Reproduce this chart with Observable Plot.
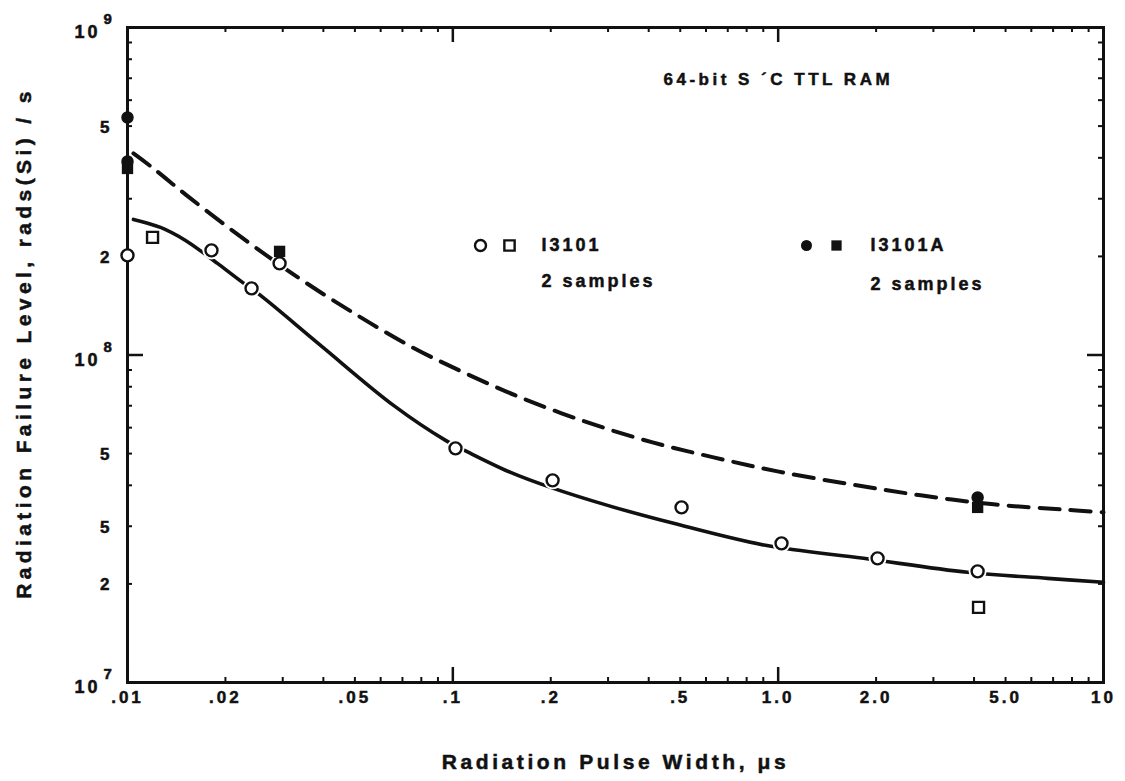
<!DOCTYPE html>
<html>
<head>
<meta charset="utf-8">
<script src="https://cdn.jsdelivr.net/npm/d3@7"></script>
<script src="https://cdn.jsdelivr.net/npm/@observablehq/plot@0.6"></script>
<style>
  html, body { margin: 0; padding: 0; background: #fff; }
  #chart svg { display: block; }
  #chart svg text { letter-spacing: 3px; stroke: #111; stroke-width: 0.5px; }
</style>
</head>
<body>
<div id="chart"></div>
<script>
// ---- Axis labels -------------------------------------------------------
const xTickValues = [0.01, 0.02, 0.05, 0.1, 0.2, 0.5, 1, 2, 5, 10];
const xTickLabels = [".01", ".02", ".05", ".1", ".2", ".5", "1.0", "2.0", "5.0", "10"];
const yDecadeValues = [1e7, 1e8, 1e9];
const yDecadeExponents = ["7", "8", "9"];
const yMinorLabelValues = [5e8, 2e8, 5e7, 3e7, 2e7];
const yMinorLabels = ["5", "2", "5", "5", "2"];
const xTitle = "Radiation Pulse Width, \u03bcs";
const yTitle = "Radiation Failure Level, rads(Si) / s";
const deviceCaption = "64-bit S \u00b4C TTL RAM";

// ---- Fitted curves: failure level (rads(Si)/s) vs pulse width (µs) ------
// I3101 (solid)
const fitI3101X = [0.01043, 0.01263, 0.01508, 0.01737, 0.01891, 0.02257, 0.02564, 0.03921, 0.06572,
                   0.0950, 0.1118, 0.1505, 0.1997, 0.2990, 0.4770, 0.9147, 1.830, 3.821, 6.733, 10];
const fitI3101Y = [2.594e8, 2.452e8, 2.238e8, 2.028e8, 1.904e8, 1.666e8, 1.520e8, 1.070e8, 7.018e7,
                   5.487e7, 5.043e7, 4.381e7, 3.943e7, 3.474e7, 3.062e7, 2.623e7, 2.394e7, 2.170e7, 2.080e7, 2.023e7];
// I3101A (dashed)
const fitI3101AX = [0.01043, 0.01202, 0.01562, 0.02355, 0.03450, 0.05093, 0.07516, 0.1079, 0.1638,
                    0.2595, 0.4111, 0.6331, 0.9958, 1.670, 2.741, 4.593, 7.384, 10];
const fitI3101AY = [4.124e8, 3.712e8, 3.007e8, 2.207e8, 1.689e8, 1.321e8, 1.055e8, 8.849e7, 7.375e7,
                    6.226e7, 5.410e7, 4.869e7, 4.412e7, 4.028e7, 3.728e7, 3.499e7, 3.378e7, 3.308e7];

// ---- Measured samples ---------------------------------------------------
// I3101, sample 1 (open circle) and sample 2 (open square)
const i3101CircleX = [0.01, 0.01812, 0.02406, 0.02934, 0.1019, 0.2026, 0.5047, 1.024, 2.021, 4.103];
const i3101CircleY = [2.014e8, 2.086e8, 1.597e8, 1.904e8, 5.187e7, 4.143e7, 3.425e7, 2.660e7, 2.394e7, 2.185e7];
const i3101SquareX = [0.01194, 4.130];
const i3101SquareY = [2.286e8, 1.696e7];
// I3101A, sample 1 (filled circle) and sample 2 (filled square)
const i3101aCircleX = [0.01, 0.01, 4.103];
const i3101aCircleY = [5.311e8, 3.899e8, 3.675e7];
const i3101aSquareX = [0.01, 0.02934, 4.103];
const i3101aSquareY = [3.712e8, 2.072e8, 3.425e7];

const rows = (xs, ys) => xs.map((x, i) => ({x, y: ys[i]}));
const labelRows = (vs, ls) => vs.map((v, i) => ({v, label: ls[i]}));

// frame geometry
const W = 1125, H = 781;
const mL = 127, mR = 22, mT = 27, mB = 99;
const innerW = W - mL - mR, innerH = H - mT - mB;

// minor and major ticks from the log scales
const isDecade = v => Math.abs(Math.log10(v) - Math.round(Math.log10(v))) < 1e-9;
const xAll = d3.scaleLog().domain([0.01, 10]).ticks();
const yAll = d3.scaleLog().domain([1e7, 1e9]).ticks();
const xMinor = xAll.filter(v => !isDecade(v)), xMajor = xAll.filter(isDecade);
const yMinor = yAll.filter(v => !isDecade(v)), yMajor = yAll.filter(isDecade);

const font = "'Liberation Sans', Arial, Helvetica, sans-serif";
const ink = "#111";
const one = [0];
const legendText = {frameAnchor: "top-left", fontSize: 18, fontWeight: 700, fill: ink, textAnchor: "start", lineAnchor: "middle"};

const chart = Plot.plot({
  width: W, height: H,
  marginLeft: mL, marginRight: mR, marginTop: mT, marginBottom: mB,
  x: {type: "log", domain: [0.01, 10], axis: null},
  y: {type: "log", domain: [1e7, 1e9], axis: null},
  style: {fontFamily: font, background: "#fff", color: ink, overflow: "visible"},
  marks: [
    // fitted curves
    Plot.line(rows(fitI3101X, fitI3101Y), {x: "x", y: "y", curve: "catmull-rom", stroke: ink, strokeWidth: 3.6}),
    Plot.line(rows(fitI3101AX, fitI3101AY), {x: "x", y: "y", curve: "catmull-rom", stroke: ink, strokeWidth: 4, strokeDasharray: "20,11"}),

    // white gaps where the open markers sit on the curves
    Plot.dot(rows(i3101CircleX, i3101CircleY), {x: "x", y: "y", r: 9, fill: "#fff"}),
    Plot.dot(rows(i3101SquareX, i3101SquareY), {x: "x", y: "y", r: 9, fill: "#fff", symbol: "square"}),

    // frame and inward ticks
    Plot.frame({stroke: ink, strokeWidth: 3}),
    Plot.ruleX(xMinor, {insetTop: innerH - 5, stroke: ink, strokeWidth: 2}),
    Plot.ruleX(xMinor, {insetBottom: innerH - 5, stroke: ink, strokeWidth: 2}),
    Plot.ruleX(xMajor, {insetTop: innerH - 15, stroke: ink, strokeWidth: 2.5}),
    Plot.ruleX(xMajor, {insetBottom: innerH - 15, stroke: ink, strokeWidth: 2.5}),
    Plot.ruleY(yMinor, {insetRight: innerW - 5, stroke: ink, strokeWidth: 2}),
    Plot.ruleY(yMinor, {insetLeft: innerW - 5, stroke: ink, strokeWidth: 2}),
    Plot.ruleY(yMajor, {insetRight: innerW - 16, stroke: ink, strokeWidth: 2.5}),
    Plot.ruleY(yMajor, {insetLeft: innerW - 16, stroke: ink, strokeWidth: 2.5}),

    // measured samples
    Plot.dot(rows(i3101CircleX, i3101CircleY), {x: "x", y: "y", r: 6, fill: "#fff", stroke: ink, strokeWidth: 2.4}),
    Plot.dot(rows(i3101SquareX, i3101SquareY), {x: "x", y: "y", r: 6.2, symbol: "square", fill: "#fff", stroke: ink, strokeWidth: 2.4}),
    Plot.dot(rows(i3101aSquareX, i3101aSquareY), {x: "x", y: "y", r: 6.4, symbol: "square", fill: ink}),
    Plot.dot(rows(i3101aCircleX, i3101aCircleY), {x: "x", y: "y", r: 6.2, fill: ink}),

    // x tick labels
    Plot.text(labelRows(xTickValues, xTickLabels), {
      x: "v", y: () => 1e7, text: "label", dy: 15, fontSize: 17, fontWeight: 700,
      fill: ink, textAnchor: "middle", lineAnchor: "middle"
    }),
    // y tick labels
    Plot.text(labelRows(yMinorLabelValues, yMinorLabels), {
      x: () => 0.01, y: "v", text: "label", dx: -15, dy: 1, fontSize: 17, fontWeight: 700,
      fill: ink, textAnchor: "end", lineAnchor: "middle"
    }),
    Plot.text(labelRows(yDecadeValues, yDecadeExponents), {
      x: () => 0.01, y: "v", text: () => "10", dx: -27, dy: 5, fontSize: 18, fontWeight: 700,
      fill: ink, textAnchor: "end", lineAnchor: "middle"
    }),
    Plot.text(labelRows(yDecadeValues, yDecadeExponents), {
      x: () => 0.01, y: "v", text: "label", dx: -24, dy: -8, fontSize: 15, fontWeight: 700,
      fill: ink, textAnchor: "start", lineAnchor: "middle"
    }),

    // axis titles
    Plot.text(one, {
      frameAnchor: "bottom", text: () => xTitle, dy: 80, dx: 0,
      fontSize: 21, fontWeight: 700, fill: ink, textAnchor: "middle", lineAnchor: "middle"
    }),
    Plot.text(one, {
      frameAnchor: "left", text: () => yTitle, dx: -103, dy: -12, rotate: -90,
      fontSize: 21, fontWeight: 700, fill: ink, textAnchor: "middle", lineAnchor: "middle"
    }),

    // device caption
    Plot.text(one, {
      frameAnchor: "top-left", text: () => deviceCaption, dx: 536, dy: 52,
      fontSize: 17, fontWeight: 700, fill: ink, textAnchor: "start", lineAnchor: "middle"
    }),

    // legend
    Plot.dot(one, {frameAnchor: "top-left", dx: 353, dy: 218, r: 5.5, fill: "#fff", stroke: ink, strokeWidth: 2.4}),
    Plot.dot(one, {frameAnchor: "top-left", dx: 382, dy: 218, r: 5.8, symbol: "square", fill: "#fff", stroke: ink, strokeWidth: 2.4}),
    Plot.text(one, {...legendText, text: () => "I3101", dx: 414, dy: 218}),
    Plot.text(one, {...legendText, text: () => "2 samples", dx: 414, dy: 254}),
    Plot.dot(one, {frameAnchor: "top-left", dx: 679, dy: 218, r: 5.5, fill: ink}),
    Plot.dot(one, {frameAnchor: "top-left", dx: 709, dy: 218, r: 5.8, symbol: "square", fill: ink}),
    Plot.text(one, {...legendText, text: () => "I3101A", dx: 743, dy: 218}),
    Plot.text(one, {...legendText, text: () => "2 samples", dx: 743, dy: 257})
  ]
});

// wider tracking on the axis titles and the caption
const tracking = new Map([[xTitle, "3.6px"], [yTitle, "4.4px"], [deviceCaption, "3.5px"]]);
d3.select(chart).selectAll("text").each(function () {
  const ls = tracking.get(this.textContent);
  if (ls) this.style.letterSpacing = ls;
});

document.getElementById("chart").appendChild(chart);
</script>
</body>
</html>
